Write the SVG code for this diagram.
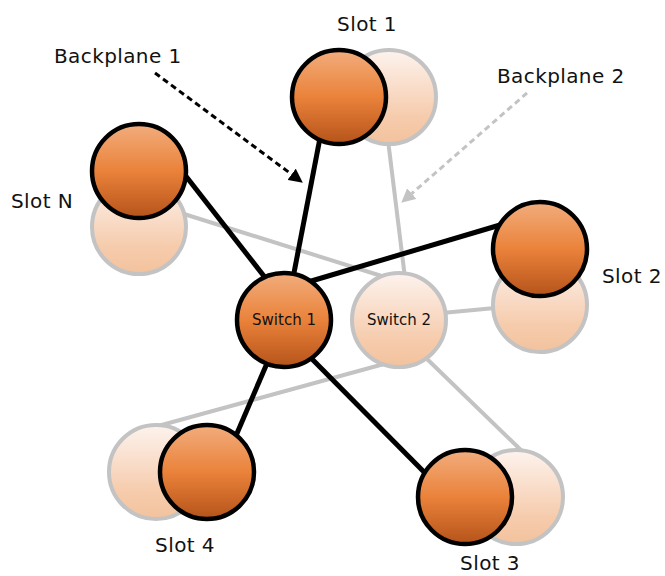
<svg xmlns="http://www.w3.org/2000/svg" width="665" height="576" viewBox="0 0 665 576">
<defs>
<linearGradient id="gDark" x1="0" y1="0" x2="0" y2="1">
<stop offset="0" stop-color="#f2ad7d"/>
<stop offset="0.5" stop-color="#ea823a"/>
<stop offset="1" stop-color="#b5531a"/>
</linearGradient>
<linearGradient id="gLight" x1="0" y1="0" x2="0" y2="1">
<stop offset="0" stop-color="#fdf3ee"/>
<stop offset="0.7" stop-color="#f6ccad"/>
<stop offset="1" stop-color="#f3c29d"/>
</linearGradient>
<marker id="arrBlack" markerUnits="userSpaceOnUse" markerWidth="16" markerHeight="14" refX="0" refY="7" orient="auto" viewBox="0 0 16 14">
<path d="M0,0 L14,7 L0,14 z" fill="#000"/>
</marker>
<marker id="arrGray" markerUnits="userSpaceOnUse" markerWidth="16" markerHeight="14" refX="0" refY="7" orient="auto" viewBox="0 0 16 14">
<path d="M0,0 L14,7 L0,14 z" fill="#c3c3c3"/>
</marker>
</defs>
<style>
.dark{fill:url(#gDark);stroke:#000;stroke-width:4.5}
.light{fill:url(#gLight);stroke:#c3c3c3;stroke-width:4}
.bl{stroke:#000;stroke-width:5;fill:none}
.gl{stroke:#c3c3c3;stroke-width:4;fill:none}
.lbl{font-family:"DejaVu Sans","Liberation Sans",sans-serif;font-size:20px;letter-spacing:0.4px;fill:#111}
.sw{font-family:"DejaVu Sans","Liberation Sans",sans-serif;font-size:15px;fill:#111;text-anchor:middle}
</style>
<rect width="665" height="576" fill="#fff"/>
<g id="connectors">
<line class="gl" x1="388" y1="140" x2="405" y2="278"/>
<line class="gl" x1="184" y1="214" x2="388" y2="278"/>
<line class="gl" x1="495" y1="308" x2="442" y2="313"/>
<line class="gl" x1="158" y1="426" x2="384" y2="364"/>
<line class="gl" x1="426" y1="358" x2="524" y2="453"/>
<line class="bl" x1="185" y1="175" x2="267" y2="280"/>
<line class="bl" x1="320" y1="138" x2="293" y2="278"/>
<line class="bl" x1="500" y1="225" x2="308" y2="282"/>
<line class="bl" x1="268" y1="361" x2="235" y2="438"/>
<line class="bl" x1="311" y1="358" x2="428" y2="476"/>
<path d="M155,73 L291.6,174.3" stroke="#000" stroke-width="3" stroke-dasharray="6,4" fill="none" marker-end="url(#arrBlack)"/>
<path d="M527,93 L411.8,193.5" stroke="#c3c3c3" stroke-width="3" stroke-dasharray="6,4" fill="none" marker-end="url(#arrGray)"/>
</g>
<g id="backplane1-label"><text class="lbl" x="54" y="63">Backplane 1</text></g>
<g id="backplane2-label"><text class="lbl" x="497" y="83">Backplane 2</text></g>
<g id="slot1">
<circle class="light" cx="389" cy="97" r="47"/>
<circle class="dark" cx="339" cy="97" r="47"/>
<text class="lbl" x="367" y="31" text-anchor="middle">Slot 1</text>
</g>
<g id="slotN">
<circle class="light" cx="139" cy="227" r="47"/>
<circle class="dark" cx="139" cy="171" r="47"/>
<text class="lbl" x="11" y="208">Slot N</text>
</g>
<g id="slot2">
<circle class="light" cx="540" cy="305" r="47"/>
<circle class="dark" cx="540" cy="249" r="47"/>
<text class="lbl" x="602" y="283">Slot 2</text>
</g>
<g id="slot4">
<circle class="light" cx="156" cy="472" r="47"/>
<circle class="dark" cx="207" cy="472" r="47"/>
<text class="lbl" x="185" y="552" text-anchor="middle">Slot 4</text>
</g>
<g id="slot3">
<circle class="light" cx="516" cy="497" r="47"/>
<circle class="dark" cx="465" cy="497" r="47"/>
<text class="lbl" x="490" y="570" text-anchor="middle">Slot 3</text>
</g>
<g id="switch2">
<circle class="light" cx="399" cy="320" r="47"/>
<text class="sw" x="399" y="325">Switch 2</text>
</g>
<g id="switch1">
<circle class="dark" cx="284" cy="320" r="47"/>
<text class="sw" x="284" y="325">Switch 1</text>
</g>
</svg>
